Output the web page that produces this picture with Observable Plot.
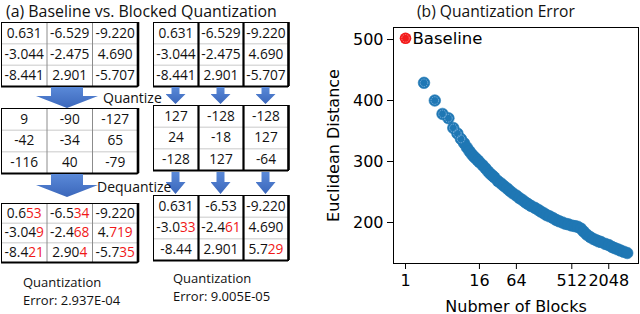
<!DOCTYPE html>
<html><head><meta charset="utf-8">
<script src="https://cdn.jsdelivr.net/npm/d3@7"></script>
<script src="https://cdn.jsdelivr.net/npm/@observablehq/plot@0.6"></script>
<style>
html,body{margin:0;padding:0;background:#fff;}
#root{position:relative;width:640px;height:314px;overflow:hidden;font-family:"Open Sans",sans-serif;color:#111;}
.txt{position:absolute;white-space:nowrap;}
.title{font-size:15.6px;line-height:normal;}
.step{font-size:14px;line-height:20px;}
.cap{font-size:13px;line-height:17.5px;}
.arrow{position:absolute;background:linear-gradient(#5a89d8,#3b67bb);}
svg{position:absolute;}
</style></head><body><div id="root"></div>
<script>
// ---------- data ----------
const matrixRows = [0, 1, 2];
const matrixCols = [0, 1, 2];
const inputValues = ["0.631","-6.529","-9.220","-3.044","-2.475","4.690","-8.441","2.901","-5.707"];
const baselineQuantized = ["9","-90","-127","-42","-34","65","-116","40","-79"];
const blockedQuantized = ["127","-128","-128","24","-18","127","-128","127","-64"];
const baselineDequantized = ["0.653","-6.534","-9.220","-3.049","-2.468","4.719","-8.421","2.904","-5.735"];
const baselineRedDigits = [2,2,0,1,2,3,2,1,2];
const blockedDequantized = ["0.631","-6.53","-9.220","-3.033","-2.461","4.690","-8.44","2.901","5.729"];
const blockedRedDigits = [0,0,0,2,2,0,0,0,2];
const panelTitles = ["(a) Baseline vs. Blocked Quantization", "(b) Quantization Error"];
const stepLabels = ["Quantize", "Dequantize"];
const captionLine1 = "Quantization";
const baselineErrorText = "Error: 2.937E-04";
const blockedErrorText = "Error: 9.005E-05";

const seriesNames = ["Baseline", "Blocked"];
const numBlocks = [1,2,3,4,5,6,7,8,9,10,11,12,13,14,15,16,18,20,22,24,26,28,32,36,40,45,50,56,64,72,80,90,100,112,128,144,160,180,200,224,256,288,320,360,400,448,512,576,640,720,800,900,1024,1152,1280,1408,1536,1792,2048,2304,2560,2880,3200,3600,4096];
const euclidean = [502,429,400,378,371,355,346,337,330,323,317,312,308,305,302,299,294,289,284,280,277,274,268,264,260,256,252,248,244,240,237,233,230,227,224,221,218,215,212,210,207,204,202,200,198,197,195,194,193,190,185,180,176,173,171,169,168,165,163,160,158,156,154,152,150];
const xTicks = [1, 16, 64, 512, 2048];
const yTicks = [200, 300, 400, 500];
const xLabel = "Nubmer of Blocks";
const yLabel = "Euclidean Distance";

// ---------- page ----------
const root = document.getElementById("root");
function addText(cls, str, left, top, extra) {
  const d = document.createElement("div");
  d.className = "txt " + cls;
  d.textContent = str;
  d.style.left = left + "px"; d.style.top = top + "px";
  if (extra) Object.assign(d.style, extra);
  root.appendChild(d);
  return d;
}
function addArrow(cx, top, bottom, width, shaftWidth, headHeight) {
  const d = document.createElement("div");
  d.className = "arrow";
  const h = bottom - top;
  d.style.left = (cx - width / 2) + "px";
  d.style.top = top + "px";
  d.style.width = width + "px";
  d.style.height = h + "px";
  const s0 = (width - shaftWidth) / 2, s1 = (width + shaftWidth) / 2, hb = h - headHeight;
  d.style.clipPath = `polygon(${s0}px 0, ${s1}px 0, ${s1}px ${hb}px, ${width}px ${hb}px, ${width/2}px ${h}px, 0 ${hb}px, ${s0}px ${hb}px)`;
  root.appendChild(d);
}

function matrix(values, redDigits, blocked, box) {
  const pad = 2;
  const cells = values.map((v, i) => ({
    row: matrixRows[Math.floor(i / matrixCols.length)],
    col: matrixCols[i % matrixCols.length],
    text: v,
    red: redDigits ? redDigits[i] : 0
  }));
  const svg = Plot.plot({
    width: box.w + 2 * pad, height: box.h + 2 * pad,
    margin: pad,
    x: {domain: [0, matrixCols.length], axis: null},
    y: {domain: [0, matrixRows.length], reverse: true, axis: null},
    style: {fontFamily: '"Open Sans", sans-serif', fontSize: "13.7px", background: "transparent", overflow: "visible", color: "#111"},
    marks: [
      Plot.rect(cells, {x1: "col", x2: d => d.col + 1, y1: "row", y2: d => d.row + 1, fill: "white"}),
      Plot.ruleY(matrixRows.slice(1), {stroke: "#c9c9c9"}),
      Plot.ruleX(matrixCols.slice(1), {stroke: blocked ? "#000" : "#8c8c8c", strokeWidth: blocked ? 2.2 : 1}),
      Plot.frame({stroke: "#000"}),
      Plot.ruleX([matrixCols.length], {stroke: "#000", strokeWidth: 2.6}),
      Plot.ruleY([matrixRows.length], {stroke: "#000", strokeWidth: 2}),
      Plot.text(cells, {x: d => d.col + 0.5, y: d => d.row + 0.5, text: "text", fill: "#111"})
    ]
  });
  d3.select(svg).selectAll('g[aria-label="text"] text').each(function (_, i) {
    const c = cells[i];
    if (c && c.red > 0) {
      const t = c.text, k = t.length - c.red;
      this.textContent = "";
      d3.select(this).append("tspan").text(t.slice(0, k));
      d3.select(this).append("tspan").attr("fill", "#f01818").text(t.slice(k));
    }
  });
  svg.style.position = "absolute";
  svg.style.left = (box.x - pad) + "px";
  svg.style.top = (box.y - pad) + "px";
  root.appendChild(svg);
  return box;
}

// titles
addText("title", panelTitles[0], 6, 0, {fontSize: "15.9px"});
addText("title", panelTitles[1], 417, 0);

// matrices
const L1 = matrix(inputValues, null, false, {x: 0.5, y: 22, w: 136.5, h: 64});
const R1 = matrix(inputValues, null, true, {x: 153, y: 22, w: 135, h: 64});
const L2 = matrix(baselineQuantized, null, false, {x: 0.5, y: 108, w: 136.5, h: 65});
const R2 = matrix(blockedQuantized, null, true, {x: 153, y: 105, w: 135, h: 65});
const L3 = matrix(baselineDequantized, baselineRedDigits, false, {x: 0.5, y: 203, w: 136.5, h: 59});
const R3 = matrix(blockedDequantized, blockedRedDigits, true, {x: 153, y: 195, w: 135, h: 65});

// arrows
addArrow(67, 87, 108, 62, 32, 12);
addArrow(67, 174, 197, 62, 32, 12);
const colW = R1.w / matrixCols.length;
matrixCols.forEach(c => {
  const cx = R1.x + colW * (c + 0.5);
  addArrow(cx, 87, 104, 20, 8, 10);
  addArrow(cx, 172, 194, 20, 8, 12);
});

// step labels
addText("step", stepLabels[0], 103, 87.5);
addText("step", stepLabels[1], 97, 176.5);

// captions
addText("cap", captionLine1 + "\n" + baselineErrorText, 23, 274, {whiteSpace: "pre"});
addText("cap", captionLine1 + "\n" + blockedErrorText, 173, 270, {whiteSpace: "pre"});

// ---------- scatter ----------
const pts = numBlocks.map((b, i) => ({blocks: b, distance: euclidean[i], series: i === 0 ? seriesNames[0] : seriesNames[1]}));
const base = pts.filter(d => d.series === seriesNames[0]);
const blk = pts.filter(d => d.series === seriesNames[1]);
const chart = Plot.plot({
  width: 330, height: 294,
  marginLeft: 83, marginRight: 2, marginTop: 7, marginBottom: 51,
  x: {type: "log", base: 2, domain: [0.637, 6250]},
  y: {domain: [132.8, 519.7]},
  style: {fontFamily: '"DejaVu Sans", sans-serif', fontSize: "16px", background: "transparent", overflow: "visible", color: "#000"},
  marks: [
    Plot.dot(blk, {x: "blocks", y: "distance", r: 5.8, fill: "#1f77b4", stroke: "#1f77b4", strokeWidth: 0.6}),
    Plot.dot(blk.filter(d => d.blocks <= 8), {x: "blocks", y: "distance", r: 3.8, fill: "none", stroke: "#8dbbe3", strokeWidth: 0.8, strokeDasharray: "1.4,1"}),
    Plot.dot(base, {x: "blocks", y: "distance", r: 5.8, fill: "#f21a1a"}),
    Plot.dot(base, {x: "blocks", y: "distance", r: 3.8, fill: "none", stroke: "#ff8c8c", strokeWidth: 0.8, strokeDasharray: "1.4,1"}),
    Plot.text(base, {x: "blocks", y: "distance", text: "series", textAnchor: "start", dx: 7, fontSize: 16.5, fill: "#000"}),
    Plot.frame({stroke: "#000"}),
    Plot.axisX({ticks: xTicks, tickFormat: d => String(d), tickSize: 6, tickPadding: 5, label: xLabel, labelAnchor: "center", labelArrow: "none", labelOffset: 48}),
    Plot.axisY({ticks: yTicks, tickSize: 6, tickPadding: 4, label: yLabel, labelAnchor: "center", labelArrow: "none", labelOffset: 66})
  ]
});
chart.style.position = "absolute";
chart.style.left = "310px";
chart.style.top = "20px";
root.appendChild(chart);
</script></body></html>
